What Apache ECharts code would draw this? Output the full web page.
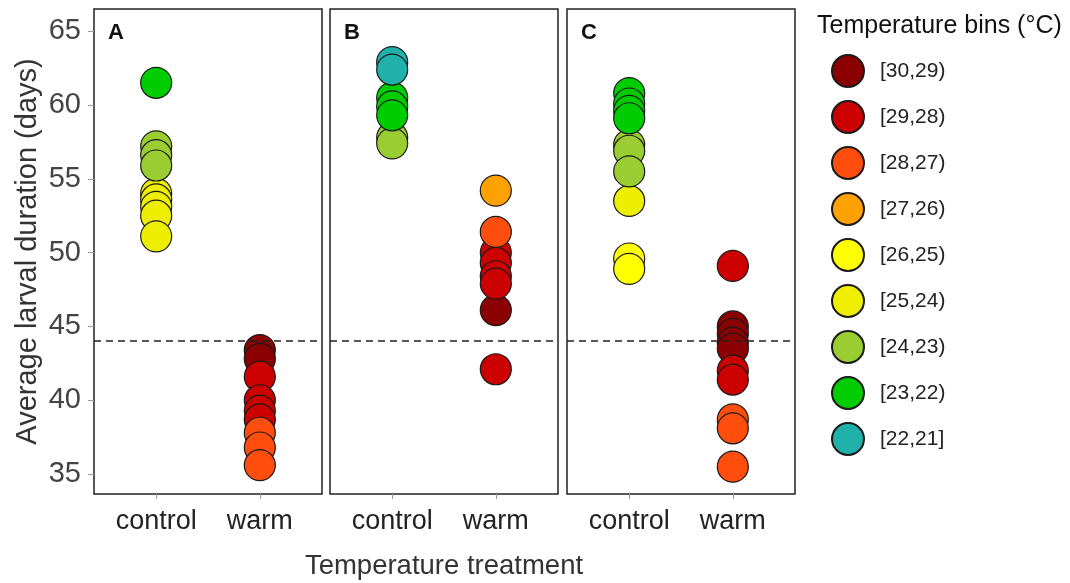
<!DOCTYPE html>
<html>
<head>
<meta charset="utf-8">
<script src="https://cdn.jsdelivr.net/npm/echarts@6/dist/echarts.min.js"></script>
<style>
  html, body { margin: 0; padding: 0; background: #fff; }
  #chart { width: 1070px; height: 583px; }
</style>
</head>
<body>
<div id="chart"></div>
<script>
// Temperature bins (°C) and their fill colours
const bins = ['[30,29)', '[29,28)', '[28,27)', '[27,26)', '[26,25)', '[25,24)', '[24,23)', '[23,22)', '[22,21]'];
const binColors = ['#8b0000', '#cc0000', '#ff4d0d', '#ffa100', '#ffff00', '#eeee00', '#9acd32', '#00cd00', '#20b2aa'];

const treatments = ['control', 'warm'];
const panelLabels = ['A', 'B', 'C'];
const yTicks = [35, 40, 45, 50, 55, 60, 65];
const thresholdDays = 44;

// Average larval duration (days) per point, with the index of its temperature bin
const aControlDays = [61.5, 57.2, 56.6, 55.9, 54.0, 53.6, 53.1, 52.5, 51.1];
const aControlBins = [7, 6, 6, 6, 5, 5, 5, 5, 5];
const aWarmDays = [43.4, 42.8, 41.6, 40.0, 39.3, 38.7, 37.8, 36.8, 35.6];
const aWarmBins = [0, 0, 1, 1, 1, 1, 2, 2, 2];

const bControlDays = [62.9, 62.4, 60.5, 59.9, 59.3, 57.8, 57.4];
const bControlBins = [8, 8, 7, 7, 7, 6, 6];
const bWarmDays = [54.2, 51.4, 50.0, 49.3, 48.4, 47.9, 46.1, 42.1];
const bWarmBins = [3, 2, 1, 1, 1, 1, 0, 1];

const cControlDays = [60.8, 60.1, 59.6, 59.1, 57.3, 56.9, 55.5, 53.5, 49.6, 48.9];
const cControlBins = [7, 7, 7, 7, 6, 6, 6, 5, 4, 4];
const cWarmDays = [49.1, 45.0, 44.5, 43.9, 43.5, 42.0, 41.4, 38.7, 38.1, 35.5];
const cWarmBins = [1, 0, 0, 0, 0, 1, 1, 2, 2, 2];

const panels = [
  { control: [aControlDays, aControlBins], warm: [aWarmDays, aWarmBins] },
  { control: [bControlDays, bControlBins], warm: [bWarmDays, bWarmBins] },
  { control: [cControlDays, cControlBins], warm: [cWarmDays, cWarmBins] }
];

const panelLeft = [94, 330, 567];
const panelWidth = 228;
const panelTop = 9;
const panelHeight = 485;
const font = 'Liberation Sans, Arial, sans-serif';

const grids = [], xAxes = [], yAxes = [], series = [];

panels.forEach((p, pi) => {
  grids.push({
    left: panelLeft[pi], top: panelTop, width: panelWidth, height: panelHeight,
    show: true, borderColor: '#222', borderWidth: 1.5, backgroundColor: '#fff'
  });
  xAxes.push({
    type: 'value', gridIndex: pi, min: 0.4, max: 2.6,
    splitLine: { show: false },
    axisLine: { show: false },
    axisTick: { show: true, length: 5, customValues: [1, 2], lineStyle: { color: '#999' } },
    axisLabel: {
      customValues: [1, 2], margin: 14, fontSize: 27, color: '#222', fontFamily: font,
      formatter: v => treatments[Math.round(v) - 1]
    }
  });
  yAxes.push({
    type: 'value', gridIndex: pi, min: 33.65, max: 66.5,
    splitLine: { show: false },
    axisLine: { show: false },
    axisTick: { show: pi === 0, length: 6, customValues: yTicks, lineStyle: { color: '#999' } },
    axisLabel: { show: pi === 0, customValues: yTicks, margin: 13, fontSize: 29, color: '#444', fontFamily: font },
    name: pi === 0 ? 'Average larval duration (days)' : '',
    nameLocation: 'middle', nameGap: 52,
    nameTextStyle: { fontSize: 29, color: '#333', fontFamily: font }
  });

  // One scatter series per bin and panel, so each bin shares its legend entry
  bins.forEach((bin, bi) => {
    const pts = [];
    treatments.forEach((t, ti) => {
      const [days, idx] = p[t];
      days.forEach((d, k) => { if (idx[k] === bi) pts.push([ti + 1, d]); });
    });
    series.push({
      name: bin, type: 'scatter', xAxisIndex: pi, yAxisIndex: pi,
      symbol: 'circle', symbolSize: 31, data: pts, z: 3,
      itemStyle: { color: binColors[bi], borderColor: '#1a1a1a', borderWidth: 1.2, opacity: 1 },
      emphasis: { disabled: true }
    });
  });

  // Dashed reference line
  series.push({
    type: 'line', xAxisIndex: pi, yAxisIndex: pi, data: [], z: 2,
    markLine: {
      silent: true, symbol: 'none', label: { show: false },
      lineStyle: { color: '#222', type: [7, 5], width: 1.5 },
      data: [{ yAxis: thresholdDays }]
    }
  });
});

const chart = echarts.init(document.getElementById('chart'), null, { renderer: 'canvas' });
chart.setOption({
  animation: false,
  backgroundColor: '#fff',
  grid: grids,
  xAxis: xAxes,
  yAxis: yAxes,
  series: series,
  legend: {
    data: bins, orient: 'vertical', left: 826, top: 49,
    icon: 'circle', itemWidth: 32, itemHeight: 32, itemGap: 12,
    textStyle: { fontSize: 21, color: '#222', fontFamily: font, padding: [0, 0, 0, 11] },
    selectedMode: false
  },
  graphic: [
    { type: 'text', left: 817, top: 14, style: { text: 'Temperature bins (°C)', font: '25px Liberation Sans, Arial, sans-serif', fill: '#111' } },
    { type: 'text', x: 444, y: 566, style: { text: 'Temperature treatment', font: '27.5px Liberation Sans, Arial, sans-serif', fill: '#333', align: 'center', verticalAlign: 'middle' } }
  ].concat(panelLabels.map((lab, i) => ({
    type: 'text', left: panelLeft[i] + 14, top: 22,
    style: { text: lab, font: 'bold 22px Liberation Sans, Arial, sans-serif', fill: '#111' }
  })))
});
</script>
</body>
</html>
